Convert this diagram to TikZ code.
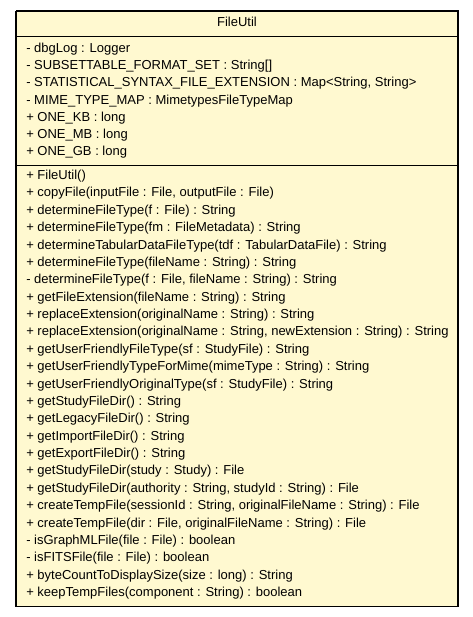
\documentclass[tikz,border=0pt]{standalone}
\usepackage{fontspec}
\setmainfont{Liberation Sans}
\definecolor{boxfill}{RGB}{255,249,208}
\definecolor{shadowgray}{RGB}{110,110,110}
\begin{document}
\begin{tikzpicture}[x=0.75pt,y=-0.75pt,
  member/.style={anchor=base west,inner sep=0pt,font=\fontsize{9.75pt}{12pt}\selectfont},
  titletext/.style={anchor=base,inner sep=0pt,font=\fontsize{9.75pt}{12pt}\selectfont}]
\useasboundingbox (0,0) rectangle (473,617);
% box
\fill[boxfill] (16,11) rectangle (458,606.5);
\draw[shadowgray,line width=0.75pt] (16,10.5) -- (458.5,10.5) -- (458.5,607);
\draw[black,line width=1pt] (16,11) -- (16,606.5) -- (458,606.5);
\draw[black,line width=1pt] (16,11) -- (458,11) -- (458,606.5);
\draw[black,line width=1pt] (16,36.5) coordinate (d1l) -- (458,36.5) coordinate (d1r);
\draw[black,line width=1pt] (16,165.5) coordinate (d2l) -- (458,165.5) coordinate (d2r);
% title
\node[titletext] (title) at (237,27) {FileUtil};
% attributes
\def\ax{26}
\node[member] (a1) at (\ax,52.5) {- dbgLog : Logger};
\node[member] (a2) at (\ax,69.7) {- SUBSETTABLE\_FORMAT\_SET : String[]};
\node[member] (a3) at (\ax,86.9) {- STATISTICAL\_SYNTAX\_FILE\_EXTENSION : Map<String, String>};
\node[member] (a4) at (\ax,104.1) {- MIME\_TYPE\_MAP : MimetypesFileTypeMap};
\node[member] (a5) at (\ax,121.3) {+ ONE\_KB : long};
\node[member] (a6) at (\ax,138.5) {+ ONE\_MB : long};
\node[member] (a7) at (\ax,155.7) {+ ONE\_GB : long};
% methods
\def\my#1{\fpeval{179.5+17.375*#1}}
\node[member] (m1) at (\ax,\my{0}) {+ FileUtil()};
\node[member] (m2) at (\ax,\my{1}) {+ copyFile(inputFile : File, outputFile : File)};
\node[member] (m3) at (\ax,\my{2}) {+ determineFileType(f : File) : String};
\node[member] (m4) at (\ax,\my{3}) {+ determineFileType(fm : FileMetadata) : String};
\node[member] (m5) at (\ax,\my{4}) {+ determineTabularDataFileType(tdf : TabularDataFile) : String};
\node[member] (m6) at (\ax,\my{5}) {+ determineFileType(fileName : String) : String};
\node[member] (m7) at (\ax,\my{6}) {- determineFileType(f : File, fileName : String) : String};
\node[member] (m8) at (\ax,\my{7}) {+ getFileExtension(fileName : String) : String};
\node[member] (m9) at (\ax,\my{8}) {+ replaceExtension(originalName : String) : String};
\node[member] (m10) at (\ax,\my{9}) {+ replaceExtension(originalName : String, newExtension : String) : String};
\node[member] (m11) at (\ax,\my{10}) {+ getUserFriendlyFileType(sf : StudyFile) : String};
\node[member] (m12) at (\ax,\my{11}) {+ getUserFriendlyTypeForMime(mimeType : String) : String};
\node[member] (m13) at (\ax,\my{12}) {+ getUserFriendlyOriginalType(sf : StudyFile) : String};
\node[member] (m14) at (\ax,\my{13}) {+ getStudyFileDir() : String};
\node[member] (m15) at (\ax,\my{14}) {+ getLegacyFileDir() : String};
\node[member] (m16) at (\ax,\my{15}) {+ getImportFileDir() : String};
\node[member] (m17) at (\ax,\my{16}) {+ getExportFileDir() : String};
\node[member] (m18) at (\ax,\my{17}) {+ getStudyFileDir(study : Study) : File};
\node[member] (m19) at (\ax,\my{18}) {+ getStudyFileDir(authority : String, studyId : String) : File};
\node[member] (m20) at (\ax,\my{19}) {+ createTempFile(sessionId : String, originalFileName : String) : File};
\node[member] (m21) at (\ax,\my{20}) {+ createTempFile(dir : File, originalFileName : String) : File};
\node[member] (m22) at (\ax,\my{21}) {- isGraphMLFile(file : File) : boolean};
\node[member] (m23) at (\ax,\my{22}) {- isFITSFile(file : File) : boolean};
\node[member] (m24) at (\ax,\my{23}) {+ byteCountToDisplaySize(size : long) : String};
\node[member] (m25) at (\ax,\my{24}) {+ keepTempFiles(component : String) : boolean};
\end{tikzpicture}
\end{document}
